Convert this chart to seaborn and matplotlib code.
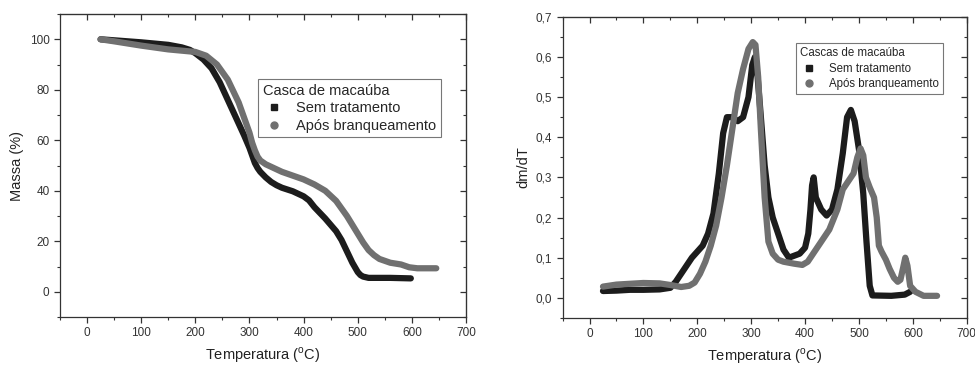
import numpy as np
import pandas as pd
import matplotlib
matplotlib.use('Agg')
import matplotlib.pyplot as plt
import seaborn as sns
from matplotlib.lines import Line2D
from matplotlib.ticker import MultipleLocator, FuncFormatter

# TGA - massa (%)
tga_sem_T = [25, 50, 100, 150, 175, 190, 200, 215, 230, 245, 260, 275, 290, 300, 305, 310,
             315, 320, 330, 340, 350, 360, 380, 400, 410, 420, 440, 460, 470, 480, 490,
             500, 505, 510, 520, 560, 598]
tga_sem_m = [100, 99.6, 98.8, 97.8, 96.8, 95.8, 94.5, 92, 88.5, 83, 76, 69, 62, 57, 54, 51,
             49, 47.5, 45.3, 43.5, 42.2, 41.2, 39.8, 37.8, 36.2, 33.5, 29, 24, 20.5, 16,
             11.5, 7.8, 6.6, 6, 5.5, 5.5, 5.3]
tga_apos_T = [25, 50, 100, 150, 200, 220, 240, 260, 280, 300, 305, 310, 315, 320, 330, 340,
              360, 380, 400, 420, 440, 460, 480, 500, 510, 520, 530, 540, 560, 580, 595,
              610, 645]
tga_apos_m = [100, 99.2, 97.5, 96, 95, 93.5, 90, 84, 75, 63, 59, 56, 53.5, 52, 50.5, 49.5,
              47.5, 46, 44.5, 42.5, 40, 36, 30, 23, 19.5, 16.5, 14.5, 13, 11.5, 10.8, 9.7,
              9.3, 9.3]

# DTG - dm/dT
dtg_sem_T = [25, 50, 75, 100, 130, 150, 160, 170, 180, 190, 200, 210, 220, 230, 240, 248,
             255, 265, 275, 285, 295, 302, 307, 312, 318, 325, 332, 340, 350, 360, 370,
             380, 390, 400, 406, 410, 413, 416, 420, 430, 440, 450, 460, 470, 478, 485,
             492, 500, 508, 514, 520, 525, 560, 585, 595]
dtg_sem_v = [0.017, 0.018, 0.02, 0.02, 0.021, 0.025, 0.04, 0.06, 0.08, 0.1, 0.115, 0.13,
             0.16, 0.21, 0.31, 0.41, 0.45, 0.45, 0.44, 0.45, 0.5, 0.58, 0.6, 0.55, 0.45,
             0.33, 0.25, 0.2, 0.16, 0.12, 0.1, 0.105, 0.11, 0.125, 0.16, 0.22, 0.28, 0.3,
             0.25, 0.22, 0.205, 0.22, 0.27, 0.36, 0.45, 0.468, 0.44, 0.37, 0.26, 0.14,
             0.03, 0.006, 0.005, 0.008, 0.015]
dtg_apos_T = [25, 50, 100, 130, 150, 170, 185, 195, 205, 215, 225, 235, 245, 255, 265, 275,
              285, 295, 303, 308, 313, 318, 325, 332, 340, 350, 360, 380, 395, 405, 415,
              430, 445, 460, 470, 480, 490, 497, 503, 508, 513, 520, 528, 533, 537, 542,
              550, 557, 565, 572, 577, 582, 586, 590, 595, 605, 620, 645]
dtg_apos_v = [0.028, 0.033, 0.037, 0.036, 0.032, 0.027, 0.03, 0.038, 0.06, 0.09, 0.13,
              0.18, 0.25, 0.33, 0.42, 0.51, 0.57, 0.62, 0.637, 0.63, 0.55, 0.42, 0.25,
              0.14, 0.11, 0.095, 0.09, 0.085, 0.082, 0.09, 0.11, 0.14, 0.17, 0.22, 0.27,
              0.29, 0.31, 0.35, 0.372, 0.355, 0.3, 0.275, 0.25, 0.2, 0.13, 0.115, 0.095,
              0.072, 0.05, 0.04, 0.045, 0.075, 0.1, 0.08, 0.03, 0.015, 0.005, 0.005]

series_names = ['Sem tratamento', 'Após branqueamento']
colors = ['#1c1c1c', '#707070']

sns.set_style('white')
plt.rcParams['font.family'] = ['Liberation Sans', 'DejaVu Sans']
plt.rcParams['mathtext.fontset'] = 'custom'
plt.rcParams['mathtext.rm'] = 'Liberation Sans'

tga = pd.concat([
    pd.DataFrame({'T': tga_sem_T, 'y': tga_sem_m, 'amostra': series_names[0]}),
    pd.DataFrame({'T': tga_apos_T, 'y': tga_apos_m, 'amostra': series_names[1]}),
])
dtg = pd.concat([
    pd.DataFrame({'T': dtg_sem_T, 'y': dtg_sem_v, 'amostra': series_names[0]}),
    pd.DataFrame({'T': dtg_apos_T, 'y': dtg_apos_v, 'amostra': series_names[1]}),
])

fig = plt.figure(figsize=(9.75, 3.65), dpi=100)
ax1 = fig.add_axes([0.0615, 0.1315, 0.4165, 0.830])
ax2 = fig.add_axes([0.577, 0.129, 0.4145, 0.825])

pal = dict(zip(series_names, colors))


def style_axes(ax, ymajor, yminor):
    ax.xaxis.set_major_locator(MultipleLocator(100))
    ax.xaxis.set_minor_locator(MultipleLocator(50))
    ax.yaxis.set_major_locator(MultipleLocator(ymajor))
    ax.yaxis.set_minor_locator(MultipleLocator(yminor))
    ax.tick_params(which='major', direction='out', length=4, width=0.9, labelsize=8.5,
                   colors='#333333', bottom=True, left=True)
    ax.tick_params(which='minor', direction='out', length=2, width=0.8,
                   bottom=True, left=True, color='#333333')
    for s in ax.spines.values():
        s.set_color('#333333')
        s.set_linewidth(0.9)
    # eixos espelhados com ticks para dentro
    top = ax.secondary_xaxis('top')
    top.xaxis.set_major_locator(MultipleLocator(100))
    top.xaxis.set_minor_locator(MultipleLocator(50))
    top.tick_params(which='major', direction='in', length=4, width=0.9, labeltop=False, color='#333333')
    top.tick_params(which='minor', direction='in', length=2, width=0.8, color='#333333')
    top.spines['top'].set_color('#333333')
    right = ax.secondary_yaxis('right')
    right.yaxis.set_major_locator(MultipleLocator(ymajor))
    right.yaxis.set_minor_locator(MultipleLocator(yminor))
    right.tick_params(which='major', direction='in', length=4, width=0.9, labelright=False, color='#333333')
    right.tick_params(which='minor', direction='in', length=2, width=0.8, color='#333333')
    right.spines['right'].set_color('#333333')


line_kw = dict(linewidth=4.5, solid_joinstyle='round', solid_capstyle='round')

sns.lineplot(data=tga, x='T', y='y', hue='amostra', palette=pal, sort=False,
             legend=False, ax=ax1, **line_kw)
ax1.set_xlim(-50, 700)
ax1.set_ylim(-10, 110)
style_axes(ax1, 20, 10)
ax1.set_xlabel(r'Temperatura ($^{\mathrm{o}}$C)', fontsize=10.5, color='#222222')
ax1.set_ylabel('Massa (%)', fontsize=10.5, color='#222222')

sns.lineplot(data=dtg, x='T', y='y', hue='amostra', palette=pal, sort=False,
             legend=False, ax=ax2, **line_kw)
ax2.set_xlim(-50, 700)
ax2.set_ylim(-0.05, 0.7)
style_axes(ax2, 0.1, 0.05)
ax2.yaxis.set_major_formatter(FuncFormatter(lambda v, p: f'{v:.1f}'.replace('.', ',')))
ax2.set_xlabel(r'Temperatura ($^{\mathrm{o}}$C)', fontsize=10.5, color='#222222')
ax2.set_ylabel('dm/dT', fontsize=10.5, color='#222222')

handles = [
    Line2D([], [], linestyle='none', marker='s', markersize=5, color=colors[0]),
    Line2D([], [], linestyle='none', marker='o', markersize=5, color=colors[1]),
]
leg1 = ax1.legend(handles, series_names, title='Casca de macaúba', loc='upper left',
                  bbox_to_anchor=(0.488, 0.785), borderaxespad=0, fontsize=10.5,
                  title_fontsize=10.5, alignment='left', frameon=True, fancybox=False,
                  edgecolor='#555555', borderpad=0.3, handletextpad=0.7, labelspacing=0.25,
                  handlelength=1.6)
leg1.get_frame().set_linewidth(0.8)

leg2 = ax2.legend(handles, series_names, title='Cascas de macaúba', loc='upper left',
                  bbox_to_anchor=(0.577, 0.912), borderaxespad=0, fontsize=8.3,
                  title_fontsize=8.3, alignment='left', frameon=True, fancybox=False,
                  edgecolor='#555555', borderpad=0.35, handletextpad=0.9, labelspacing=0.3,
                  handlelength=1.6)
leg2.get_frame().set_linewidth(0.8)

plt.savefig('out.png', dpi=100)
